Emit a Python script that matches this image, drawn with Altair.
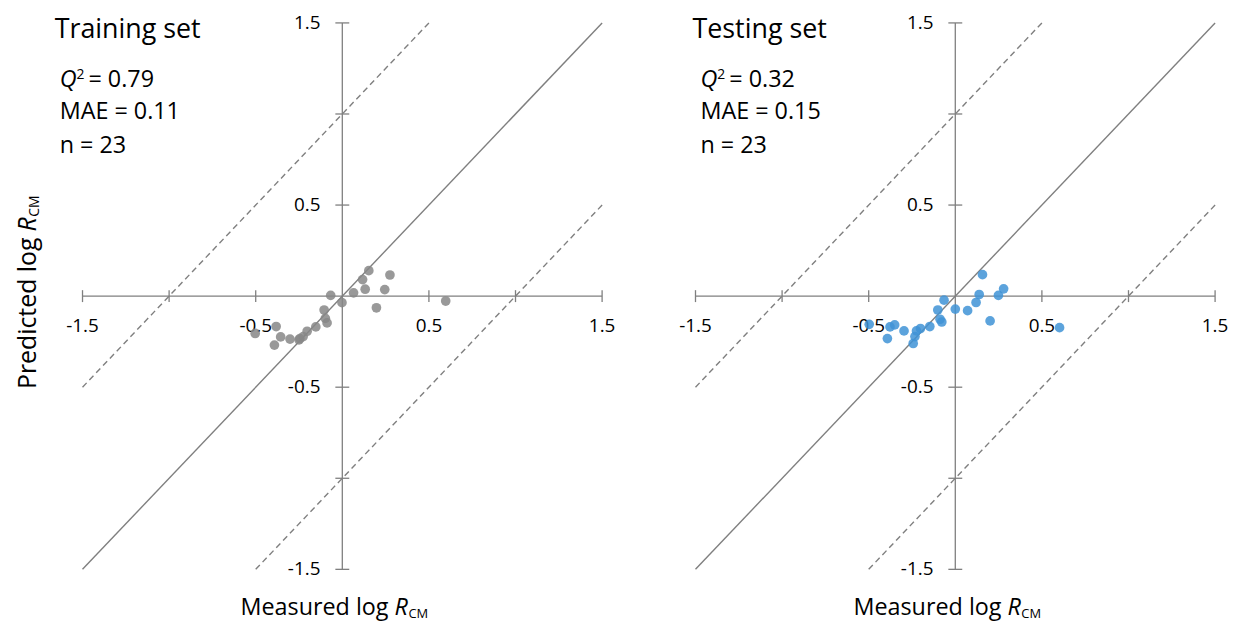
import altair as alt
import pandas as pd

FONT = "Open Sans"
GRAY = "#7f7f7f"

# ---- data ----
train_x = [-0.503, -0.382, -0.392, -0.356, -0.302, -0.245, -0.250, -0.226, -0.203, -0.153,
           -0.105, -0.098, -0.088, -0.067, -0.002, 0.065, 0.132, 0.117, 0.153, 0.197,
           0.245, 0.275, 0.597]
train_y = [-0.205, -0.167, -0.269, -0.224, -0.236, -0.233, -0.240, -0.222, -0.193, -0.169,
           -0.076, -0.122, -0.147, 0.004, -0.036, 0.018, 0.038, 0.091, 0.140, -0.064,
           0.036, 0.116, -0.027]

test_x = [-0.497, -0.377, -0.350, -0.392, -0.296, -0.224, -0.201, -0.233, -0.243, -0.147,
          -0.101, -0.088, -0.078, -0.065, 0.000, 0.071, 0.120, 0.138, 0.157, 0.201,
          0.249, 0.279, 0.602]
test_y = [-0.155, -0.169, -0.158, -0.233, -0.191, -0.191, -0.178, -0.222, -0.260, -0.167,
          -0.076, -0.127, -0.142, -0.022, -0.071, -0.080, -0.035, 0.009, 0.118, -0.136,
          0.004, 0.040, -0.173]

panel_titles = ["Training set", "Testing set"]
q2_values = ["0.79", "0.32"]
mae_values = ["0.11", "0.15"]
n_values = ["23", "23"]

tick_values = [-1.5, -1.0, -0.5, 0.5, 1.0, 1.5]
label_values = [-1.5, -0.5, 0.5, 1.5]
label_texts = ["-1.5", "-0.5", "0.5", "1.5"]

axis_min, axis_max = -1.5, 1.5
line_offsets = [0.0, 1.0, -1.0]          # y = x + offset
line_kinds = ["solid", "dashed", "dashed"]

W, H = 523, 550

# ---- derived tables ----
seg = pd.DataFrame({
    "x1": [max(axis_min, axis_min - o) for o in line_offsets],
    "x2": [min(axis_max, axis_max - o) for o in line_offsets],
    "off": line_offsets,
    "kind": line_kinds,
})
seg["y1"] = seg["x1"] + seg["off"]
seg["y2"] = seg["x2"] + seg["off"]
seg_solid = seg[seg.kind == "solid"].reset_index(drop=True)
seg_dash = seg[seg.kind == "dashed"].reset_index(drop=True)

axes_df = pd.DataFrame({"x1": [axis_min, 0.0], "x2": [axis_max, 0.0],
                        "y1": [0.0, axis_min], "y2": [0.0, axis_max]})
ticks_df = pd.DataFrame({"v": tick_values, "z": [0.0] * len(tick_values)})
labels_df = pd.DataFrame({"v": label_values, "t": label_texts,
                          "z": [0.0] * len(label_values)})

xs = alt.Scale(domain=[axis_min, axis_max], nice=False, zero=False)
ys = alt.Scale(domain=[axis_min, axis_max], nice=False, zero=False)


def txt(s, x, y, size, align="left", italic=False, angle=0, dx=0, dy=0):
    kw = dict(align=align, baseline="alphabetic", fontSize=size, font=FONT,
              color="#000000", dx=dx, dy=dy)
    if italic:
        kw["fontStyle"] = "italic"
    if angle:
        kw["angle"] = angle
    return alt.Chart(pd.DataFrame({"t": [s]})).mark_text(**kw).encode(
        x=alt.value(x), y=alt.value(y), text="t:N")


def panel(px, py, color, i, title_x, stats_x, with_ytitle):
    pts = alt.Chart(pd.DataFrame({"x": px, "y": py})).mark_circle(
        size=95, color=color, opacity=0.85).encode(
        x=alt.X("x:Q", scale=xs, axis=None),
        y=alt.Y("y:Q", scale=ys, axis=None))
    solid = alt.Chart(seg_solid).mark_rule(
        color=GRAY, strokeWidth=1.4).encode(
        x=alt.X("x1:Q", scale=xs, axis=None), x2="x2:Q",
        y=alt.Y("y1:Q", scale=ys, axis=None), y2="y2:Q")
    dashed = alt.Chart(seg_dash).mark_rule(
        color=GRAY, strokeWidth=1.4, strokeDash=[6, 4]).encode(
        x=alt.X("x1:Q", scale=xs, axis=None), x2="x2:Q",
        y=alt.Y("y1:Q", scale=ys, axis=None), y2="y2:Q")
    axes = alt.Chart(axes_df).mark_rule(color=GRAY, strokeWidth=1.3).encode(
        x=alt.X("x1:Q", scale=xs, axis=None), x2="x2:Q",
        y=alt.Y("y1:Q", scale=ys, axis=None), y2="y2:Q")
    xt = alt.Chart(ticks_df).mark_tick(orient="vertical", size=12, thickness=1.3,
                                       color=GRAY, opacity=1).encode(
        x=alt.X("v:Q", scale=xs, axis=None), y=alt.Y("z:Q", scale=ys, axis=None))
    yt = alt.Chart(ticks_df).mark_tick(orient="horizontal", size=14, thickness=1.3,
                                       color=GRAY, opacity=1).encode(
        y=alt.Y("v:Q", scale=ys, axis=None), x=alt.X("z:Q", scale=xs, axis=None))
    xl = alt.Chart(labels_df).mark_text(dy=30, align="center", baseline="middle",
                                        fontSize=19, font=FONT, color="#000000").encode(
        x=alt.X("v:Q", scale=xs, axis=None), y=alt.Y("z:Q", scale=ys, axis=None),
        text="t:N")
    yl = alt.Chart(labels_df).mark_text(dx=-22, align="right", baseline="middle",
                                        fontSize=19, font=FONT, color="#000000").encode(
        y=alt.Y("v:Q", scale=ys, axis=None), x=alt.X("z:Q", scale=xs, axis=None),
        text="t:N")

    ann = [
        txt(panel_titles[i], title_x, 15, 27),
        txt("Q", stats_x, 65, 23.5, italic=True),
        txt("2", stats_x + 17, 56, 14),
        txt("= " + q2_values[i], stats_x + 29, 65, 23.5),
        txt("MAE = " + mae_values[i], stats_x, 97, 23.5),
        txt("n = " + n_values[i], stats_x, 131, 23.5),
        txt("Measured log", 308, 596, 23.5, align="right"),
        txt("R", 314, 596, 23.5, italic=True),
        txt("CM", 328, 599, 13),
    ]
    if with_ytitle:
        ann += [
            txt("Predicted log", -47, 216, 25, align="right", angle=270),
            txt("R", -47, 216, 25, italic=True, angle=270, dx=6),
            txt("CM", -47, 216, 14, angle=270, dx=21, dy=3),
        ]
    return alt.layer(solid, dashed, axes, xt, yt, xl, yl, pts, *ann).properties(
        width=W, height=H)


left = panel(train_x, train_y, "#878787", 0, -28, -23, True)
right = panel(test_x, test_y, "#3f93d6", 1, -3, 5, False)

chart = alt.hconcat(left, right, spacing=63).properties(
    padding={"left": 8, "top": 4, "right": 0, "bottom": 0}
).configure_view(stroke=None)

chart.save("out.html", embed_options={"renderer": "svg", "actions": False})
